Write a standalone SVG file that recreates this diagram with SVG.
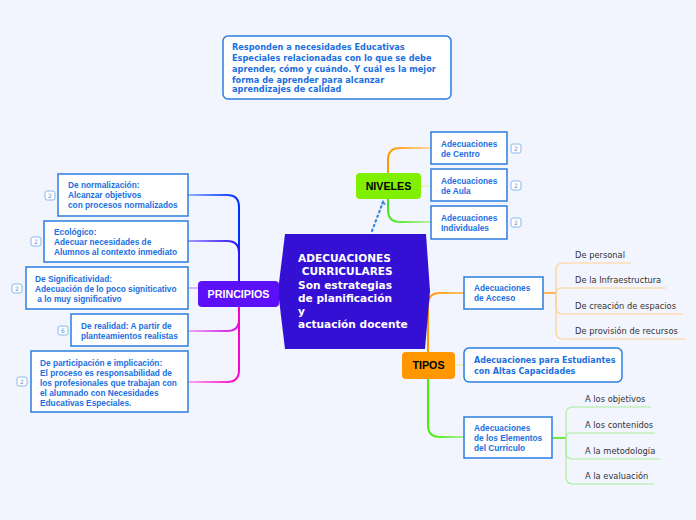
<svg xmlns="http://www.w3.org/2000/svg" width="696" height="520" viewBox="0 0 696 520">
<defs>
<style>
.bx{fill:#fff;stroke:#2b7de0;stroke-width:1.5}
.bt{font-family:"Liberation Sans",Arial,sans-serif;font-weight:bold;font-size:8.3px;fill:#1b6fe0}
.vt{font-family:"DejaVu Sans",Verdana,sans-serif;font-weight:bold;font-size:8.2px;fill:#1b6fe0}
.lt{font-family:"DejaVu Sans",Verdana,sans-serif;font-size:8.3px;fill:#333}
.badge rect{fill:#fff;stroke:#8ab8ee;stroke-width:1}
.badge text{font-family:"DejaVu Sans",sans-serif;font-size:6px;fill:#5b8fd0;text-anchor:middle}
.mt{font-family:"Liberation Sans",Arial,sans-serif;font-weight:bold;font-size:10.7px;text-anchor:middle}
.c{fill:none;stroke-linecap:round}
</style>
<linearGradient id="gB1" gradientUnits="userSpaceOnUse" x1="239" y1="0" x2="188" y2="0"><stop offset="0" stop-color="#0030ff"/><stop offset="1" stop-color="#8fb2ff"/></linearGradient>
<linearGradient id="gB2" gradientUnits="userSpaceOnUse" x1="239" y1="0" x2="188" y2="0"><stop offset="0" stop-color="#2a14ff"/><stop offset="1" stop-color="#a898ff"/></linearGradient>
<linearGradient id="gB4" gradientUnits="userSpaceOnUse" x1="239" y1="0" x2="188" y2="0"><stop offset="0" stop-color="#d010e8"/><stop offset="1" stop-color="#f0a8f4"/></linearGradient>
<linearGradient id="gB5" gradientUnits="userSpaceOnUse" x1="239" y1="0" x2="188" y2="0"><stop offset="0" stop-color="#ff00c8"/><stop offset="1" stop-color="#f7a8ea"/></linearGradient>
<linearGradient id="gO" gradientUnits="userSpaceOnUse" x1="388" y1="0" x2="431" y2="0"><stop offset="0" stop-color="#ff9900"/><stop offset="1" stop-color="#ffd9a0"/></linearGradient>
<linearGradient id="gG" gradientUnits="userSpaceOnUse" x1="388" y1="0" x2="431" y2="0"><stop offset="0" stop-color="#44e818"/><stop offset="1" stop-color="#b8f2a8"/></linearGradient>
<linearGradient id="gO2" gradientUnits="userSpaceOnUse" x1="428" y1="0" x2="464" y2="0"><stop offset="0" stop-color="#ff9900"/><stop offset="1" stop-color="#ffc070"/></linearGradient>
<linearGradient id="gG2" gradientUnits="userSpaceOnUse" x1="428" y1="0" x2="464" y2="0"><stop offset="0" stop-color="#44ee00"/><stop offset="1" stop-color="#a8f098"/></linearGradient>
</defs>
<rect width="696" height="520" fill="#f2f5fd"/>

<g id="connectors">
<path class="c" d="M239,282 V207 Q239,195 227,195 H188" stroke="url(#gB1)" stroke-width="2"/>
<path class="c" d="M239,282 V253 Q239,241 227,241 H188" stroke="url(#gB2)" stroke-width="2"/>
<path class="c" d="M198,288 H188" stroke="#c8a0ff" stroke-width="1.5"/>
<path class="c" d="M239,305 V320 Q239,331 227,331 H188" stroke="url(#gB4)" stroke-width="2"/>
<path class="c" d="M239,305 V370 Q239,382 227,382 H188" stroke="url(#gB5)" stroke-width="2"/>
<path class="c" d="M388,173 V160 Q388,148 400,148 H431" stroke="url(#gO)" stroke-width="2"/>
<path class="c" d="M421,186 H431" stroke="#e2f7a8" stroke-width="1.5"/>
<path class="c" d="M388,199 V210 Q388,222 400,222 H431" stroke="url(#gG)" stroke-width="2"/>
<path class="c" d="M372,231 L383,202" stroke="#3a8ae0" stroke-width="2.2" stroke-dasharray="1.5 3.5"/>
<path d="M383,200 L386,205 L381,204 Z" fill="#3a8ae0"/>
<path class="c" d="M428,352 V305 Q428,293 440,293 H464" stroke="url(#gO2)" stroke-width="2"/>
<path class="c" d="M455,365 H464" stroke="#e2f7a8" stroke-width="1.5"/>
<path class="c" d="M428,379 V425 Q428,437 440,437 H464" stroke="url(#gG2)" stroke-width="2"/>
<g stroke="#ffd08e" stroke-width="1.2" fill="none">
<path d="M543,293 H556" stroke="#ffa020" stroke-width="1.5"/>
<path d="M556,293 V270 Q556,263 563,263 H631"/>
<path d="M556,293 Q556,288 561,288 H666"/>
<path d="M556,293 V307 Q556,314 563,314 H683"/>
<path d="M556,293 V332 Q556,339 563,339 H685"/>
</g>
<g stroke="#a8ee98" stroke-width="1.2" fill="none">
<path d="M552,438 H566" stroke="#40e010" stroke-width="1.5"/>
<path d="M566,438 V414 Q566,407 573,407 H651"/>
<path d="M566,438 Q566,433 571,433 H655"/>
<path d="M566,438 V452 Q566,459 573,459 H660"/>
<path d="M566,438 V477 Q566,484 573,484 H654"/>
</g>
</g>

<g id="note">
<rect x="223" y="36" width="228" height="63" rx="5" class="bx"/>
<text class="vt"><tspan x="232" y="50">Responden a necesidades Educativas</tspan><tspan x="232" y="61">Especiales relacionadas con lo que se debe</tspan><tspan x="232" y="72">aprender, cómo y cuándo. Y cuál es la mejor</tspan><tspan x="232" y="83">forma de aprender para alcanzar</tspan><tspan x="232" y="92">aprendizajes de calidad</tspan></text>
</g>

<g id="central">
<polygon points="285,234 426,234 430,291 425,349 285,349 278,291" fill="#3410d4"/>
<text font-family="DejaVu Sans,Verdana,sans-serif" font-weight="bold" font-size="10.6" fill="#fff"><tspan x="298" y="262">ADECUACIONES</tspan><tspan x="298" y="275"> CURRICULARES</tspan><tspan x="298" y="289">Son estrategias</tspan><tspan x="298" y="302">de planificación</tspan><tspan x="298" y="315">y</tspan><tspan x="298" y="328">actuación docente</tspan></text>
</g>

<g id="principios">
<rect x="198" y="281" width="81" height="26" rx="4" fill="#5c10f8"/>
<text class="mt" x="238.5" y="297.5" fill="#fff">PRINCIPIOS</text>
</g>
<g id="niveles">
<rect x="356" y="173" width="65" height="26" rx="4" fill="#80f000"/>
<text class="mt" x="388.5" y="190" fill="#000">NIVELES</text>
</g>
<g id="tipos">
<rect x="402" y="352" width="53" height="27" rx="4" fill="#ff9700"/>
<text class="mt" x="428.5" y="369" fill="#000">TIPOS</text>
</g>

<g id="p-normalizacion">
<rect x="58" y="174" width="130" height="42" class="bx"/>
<text class="bt"><tspan x="68" y="188">De normalización:</tspan><tspan x="68" y="198">Alcanzar objetivos</tspan><tspan x="68" y="208">con procesos normalizados</tspan></text>
<g class="badge"><rect x="45" y="191" width="10" height="9" rx="2"/><text x="50" y="198">2</text></g>
</g>
<g id="p-ecologico">
<rect x="44" y="221" width="144" height="41" class="bx"/>
<text class="bt"><tspan x="54" y="235">Ecológico:</tspan><tspan x="54" y="245">Adecuar necesidades de</tspan><tspan x="54" y="255">Alumnos al contexto inmediato</tspan></text>
<g class="badge"><rect x="31" y="237" width="10" height="9" rx="2"/><text x="36" y="244">2</text></g>
</g>
<g id="p-significatividad">
<rect x="26" y="267" width="162" height="42" class="bx"/>
<text class="bt"><tspan x="35" y="282">De Significatividad:</tspan><tspan x="35" y="292">Adecuación de lo poco signiticativo</tspan><tspan x="35" y="302"> a lo muy significativo</tspan></text>
<g class="badge"><rect x="12" y="284" width="10" height="9" rx="2"/><text x="17" y="291">2</text></g>
</g>
<g id="p-realidad">
<rect x="71" y="314" width="117" height="32" class="bx"/>
<text class="bt"><tspan x="81" y="329">De realidad: A partir de</tspan><tspan x="81" y="339">planteamientos realistas</tspan></text>
<g class="badge"><rect x="58" y="326" width="10" height="9" rx="2"/><text x="63" y="333">6</text></g>
</g>
<g id="p-participacion">
<rect x="31" y="351" width="157" height="61" class="bx"/>
<text class="bt"><tspan x="40" y="366">De participación e implicación:</tspan><tspan x="40" y="376">El proceso es responsabilidad de</tspan><tspan x="40" y="386">los profesionales que trabajan con</tspan><tspan x="40" y="396">el alumnado con Necesidades</tspan><tspan x="40" y="406">Educativas Especiales.</tspan></text>
<g class="badge"><rect x="17" y="377" width="10" height="9" rx="2"/><text x="22" y="384">2</text></g>
</g>

<g id="n-centro">
<rect x="431" y="132" width="76" height="32" class="bx"/>
<text class="bt"><tspan x="441" y="147">Adecuaciones</tspan><tspan x="441" y="157">de Centro</tspan></text>
<g class="badge"><rect x="511" y="144" width="10" height="9" rx="2"/><text x="516" y="151">2</text></g>
</g>
<g id="n-aula">
<rect x="431" y="169" width="76" height="32" class="bx"/>
<text class="bt"><tspan x="441" y="184">Adecuaciones</tspan><tspan x="441" y="194">de Aula</tspan></text>
<g class="badge"><rect x="511" y="181" width="10" height="9" rx="2"/><text x="516" y="188">2</text></g>
</g>
<g id="n-individuales">
<rect x="431" y="206" width="76" height="33" class="bx"/>
<text class="bt"><tspan x="441" y="221">Adecuaciones</tspan><tspan x="441" y="231">Individuales</tspan></text>
<g class="badge"><rect x="511" y="218" width="10" height="9" rx="2"/><text x="516" y="225">2</text></g>
</g>

<g id="t-acceso">
<rect x="464" y="277" width="79" height="32" class="bx"/>
<text class="bt"><tspan x="474" y="291">Adecuaciones</tspan><tspan x="474" y="301">de Acceso</tspan></text>
</g>
<g id="t-altas">
<rect x="464" y="348" width="158" height="34" rx="5" class="bx"/>
<text class="vt" style="font-size:8px"><tspan x="474" y="363">Adecuaciones para Estudiantes</tspan><tspan x="474" y="374">con Altas Capacidades</tspan></text>
</g>
<g id="t-elementos">
<rect x="464" y="417" width="88" height="41" class="bx"/>
<text class="bt"><tspan x="474" y="431">Adecuaciones</tspan><tspan x="474" y="441">de los Elementos</tspan><tspan x="474" y="451">del Curriculo</tspan></text>
</g>

<g id="acceso-items">
<text class="lt" x="575" y="258">De personal</text>
<text class="lt" x="575" y="283">De la Infraestructura</text>
<text class="lt" x="575" y="309">De creación de espacios</text>
<text class="lt" x="575" y="334">De provisión de recursos</text>
</g>
<g id="elementos-items">
<text class="lt" x="585" y="402">A los objetivos</text>
<text class="lt" x="585" y="428">A los contenidos</text>
<text class="lt" x="585" y="454">A la metodología</text>
<text class="lt" x="585" y="479">A la evaluación</text>
</g>
</svg>
